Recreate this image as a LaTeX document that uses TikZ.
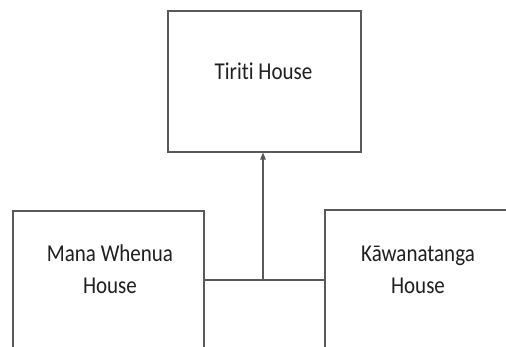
\documentclass[tikz,border=0pt]{standalone}
\usepackage{fontspec}
\setmainfont{Carlito}[Ligatures=NoCommon]
\usetikzlibrary{arrows.meta}
\tikzset{
  housebox/.style={draw=black!65, line width=1.1pt, inner sep=0pt, fill=none},
  housetext/.style={text=black!88, align=center, inner sep=0pt, yscale=1.15, transform shape, font=\fontsize{21}{27.5}\selectfont},
  link/.style={draw=black!65, line width=1.1pt},
}
\begin{document}
\begin{tikzpicture}[x=1pt,y=1pt]
\useasboundingbox (0,0) rectangle (506,347);
\clip (0,0) rectangle (506,347);
\fill[white] (0,0) rectangle (506,347);
\node[housebox, minimum width=193pt, minimum height=141pt] (tiriti) at (264.5,265.5) {};
\node[housebox, minimum width=191pt, minimum height=156pt] (mana) at (108.5,58) {};
\node[housebox, minimum width=191pt, minimum height=157pt] (kawa) at (420.5,58.5) {};
\node[housetext, anchor=base] (ttext) at (263.5,267.5) {Tiriti House};
\node[housetext, anchor=base] (mtext) at (110,53.7) {Mana Whenua\\House};
\node[housetext, anchor=base] (ktext) at (418,53.7) {Kāwanatanga\\House};
\coordinate (j) at (263,67);
\draw[link] (mana.east |- j) -- (kawa.west |- j);
\draw[link, -{Triangle[length=7pt,width=5.5pt]}] (j) -- (j |- tiriti.south);
\end{tikzpicture}
\end{document}
